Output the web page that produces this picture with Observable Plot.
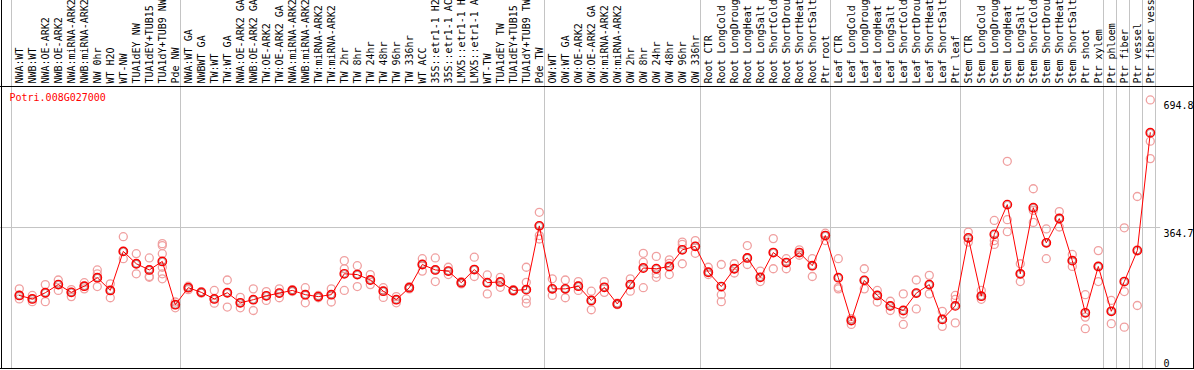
<!DOCTYPE html>
<html><head><meta charset="utf-8">
<script src="https://cdn.jsdelivr.net/npm/d3@7"></script>
<script src="https://cdn.jsdelivr.net/npm/@observablehq/plot@0.6"></script>
<style>
html,body{margin:0;padding:0;background:#fff;}
#chart{width:1194px;height:370px;}
</style></head><body><div id="chart"></div>
<script>
const categories = [
  "NWA:WT","NWB:WT","NWA:OE-ARK2","NWB:OE-ARK2","NWA:miRNA-ARK2","NWB:miRNA-ARK2","NW 0hr","WT H2O","WT-NW","TUA1dEY NW","TUA1dEY+TUB15 NW","TUA1dY+TUB9 NW","Pde NW",
  "NWA:WT GA","NWBWT GA","TW:WT","TW:WT GA","NWA:OE-ARK2 GA","NWB:OE-ARK2 GA","TW:OE-ARK2","TW:OE-ARK2 GA","NWA:miRNA-ARK2 GA","NWB:miRNA-ARK2 GA","TW:miRNA-ARK2","TW:miRNA-ARK2 GA","TW 2hr","TW 8hr","TW 24hr","TW 48hr","TW 96hr","TW 336hr","WT ACC","35S::etr1-1 H2O","35S::etr1-1 ACC","LMX5::etr1-1 H2O","LMX5::etr1-1 ACC","WT-TW","TUA1dEY TW","TUA1dEY+TUB15 TW","TUA1dY+TUB9 TW","Pde TW",
  "OW:WT","OW:WT GA","OW:OE-ARK2","OW:OE-ARK2 GA","OW:miRNA-ARK2","OW:miRNA-ARK2 GA","OW 2hr","OW 8hr","OW 24hr","OW 48hr","OW 96hr","OW 336hr",
  "Root CTR","Root LongCold","Root LongDrought","Root LongHeat","Root LongSalt","Root ShortCold","Root ShortDrought","Root ShortHeat","Root ShortSalt","Ptr root",
  "Leaf CTR","Leaf LongCold","Leaf LongDrought","Leaf LongHeat","Leaf LongSalt","Leaf ShortCold","Leaf ShortDrought","Leaf ShortHeat","Leaf ShortSalt","Ptr leaf",
  "Stem CTR","Stem LongCold","Stem LongDrought","Stem LongHeat","Stem LongSalt","Stem ShortCold","Stem ShortDrought","Stem ShortHeat","Stem ShortSalt","Ptr shoot","Ptr xylem",
  "Ptr phloem","Ptr fiber","Ptr vessel","Ptr fiber vessel"
];
const means = [
  189,180,196,217,197,213,235,202,303,271,255,277,165,
  209,197,180,196,170,178,188,195,202,191,186,191,245,243,229,200,178,209,269,255,252,222,256,222,224,202,204,369,
  206,206,213,176,210,167,217,260,258,264,307,316,
  249,212,258,286,236,300,274,300,266,344,
  235,124,228,189,162,150,195,217,127,162,
  338,187,347,424,245,416,325,388,279,144,264,
  148,225,305,610
];
const replicates = [
  [206,189,180],[189,180,173],[217,196,173],[229,217,202],[204,197,186],[222,213,206],[255,245,235,212],[219,202,183],[341,303,284],[297,271,245],[286,255,238,236],[323,318,297,262,245,232],[172,165,157],
  [213,209,204],[199,197,195],[202,180,169],[229,196,159],[184,170,157],[206,178,150],[199,188,176],[206,195,183],[204,202,199],[209,191,170],[189,186,183],[206,191,172],[279,258,202],[266,243,212],[243,229,217],[209,200,184],[186,178,170],[212,209,206],[284,269,252],[286,255,225],[262,252,243],[225,222,219],[288,256,238],[242,222,193],[236,224,210],[204,202,200],[262,223,204,180,169],[404,369,344,335],
  [232,206,189],[229,206,183],[225,214,202],[200,176,152],[225,210,197],[169,167,165],[232,217,200],[298,275,209],[290,245,236],[281,272,243],[327,321,271],[331,316,298],
  [262,249,243],[269,191,173],[271,258,247],[318,286,269],[252,236,225],[336,300,258],[284,274,258],[307,300,293],[284,266,238],[350,344,331],
  [284,210,206],[129,124,114],[258,228,206],[202,189,172],[174,162,150],[193,141,114],[229,195,154],[241,217,193],[148,127,109],[189,179,118],
  [353,338,327],[202,187,179],[383,331,321],[536,385,354],[271,245,225],[465,409,378],[361,325,284],[406,388,366],[295,279,264],[191,133,103],[305,264,225],
  [176,148,116],[364,199,107],[445,307,163],[694.8,588,543]
];
const groupStarts = ["NWA:WT","NWA:WT GA","OW:WT","Root CTR","Leaf CTR","Stem CTR","Ptr phloem","Ptr fiber","Ptr vessel","Ptr fiber vessel"];
const geneId = "Potri.008G027000";
const yTickLabels = [0, 364.7, 694.8];

const n = categories.length;
const meanData = categories.map((c, i) => ({i, c, v: means[i]}));
const repData = categories.flatMap((c, i) => replicates[i].map(v => ({i, c, v})));
const yMax = d3.max(repData, d => d.v);
const yTop = yMax * 1.05;
const off = 0.6;
const seps = groupStarts.map(c => categories.indexOf(c)).concat([n]);

const plot = Plot.plot({
  width: 1194, height: 370,
  marginTop: 0, marginBottom: 2, marginLeft: 0, marginRight: 0,
  style: {fontFamily: "'DejaVu Sans Mono', monospace", fontSize: "10px", background: "#fff", color: "black"},
  x: {type: "linear", domain: [-off, n - off], range: [11, 1155], axis: null},
  y: {type: "linear", domain: [0, yTop], range: [368, 86], axis: null},
  marks: [
    Plot.ruleX(seps, {x: d => d - off, stroke: "#c4c4c4", strokeWidth: 1}),
    Plot.ruleY([yTickLabels[1]], {y: d => d, x1: -1.5, x2: n - 0.2, stroke: "#c4c4c4"}),
    Plot.ruleY([yTop], {y: d => d, stroke: "black"}),
    Plot.ruleY([0], {y: d => d, stroke: "black"}),
    Plot.dot(repData, {x: "i", y: "v", r: 4, stroke: "#f0a0a0", strokeWidth: 1.3, fill: "none"}),
    Plot.line(meanData, {x: "i", y: "v", stroke: "red", strokeWidth: 1}),
    Plot.dot(meanData, {x: "i", y: "v", r: 4.2, stroke: "red", strokeWidth: 1.4, fill: "none"}),
    Plot.dot(meanData, {x: "i", y: "v", r: 3.2, stroke: "#500000", strokeWidth: 0.5, strokeOpacity: 0.7, fill: "none"}),
    Plot.text(meanData, {x: "i", y: () => yTop, text: "c", dy: -3, rotate: -90, textAnchor: "start", lineAnchor: "middle", fill: "black"}),
    Plot.text([geneId], {frameAnchor: "top-left", dx: 9, dy: 93, lineAnchor: "top", textAnchor: "start", fill: "red"}),
    Plot.text(yTickLabels.filter(d => d > 0), {x: () => n - off, y: d => d, text: d => String(d), dx: 8, dy: 2, textAnchor: "start", lineAnchor: "top", fill: "black"}),
    Plot.text(yTickLabels.filter(d => d === 0), {x: () => n - off, y: d => d, text: d => String(d), dx: 8, dy: -2, textAnchor: "start", lineAnchor: "bottom", fill: "black"}),
    Plot.frame({stroke: "black", insetLeft: 1, insetRight: 1, insetTop: -3})
  ]
});
document.getElementById("chart").appendChild(plot);
</script>
</body></html>
